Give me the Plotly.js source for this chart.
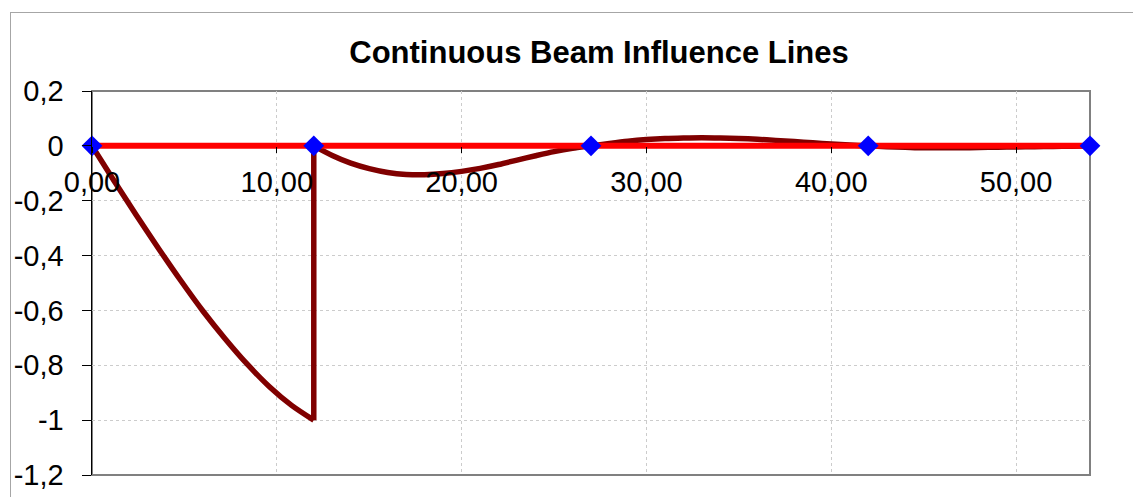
<!DOCTYPE html>
<html>
<head>
<meta charset="utf-8">
<script src="https://cdn.plot.ly/plotly-3.0.1.min.js"></script>
<style>
  html, body { margin: 0; padding: 0; background: #fff; overflow: hidden; }
  #wrap { position: relative; width: 1133px; height: 497px; }
  #chart { position: absolute; left: 0; top: 0; width: 1133px; height: 497px; }
  #frame { position: absolute; left: 10px; top: 12px; width: 1400px; height: 800px;
           border: 1px solid #a6a6a6; pointer-events: none; box-sizing: border-box; }
</style>
</head>
<body>
<div id="wrap">
  <div id="chart"></div>
  <div id="frame"></div>
</div>
<script>
// Influence line (dark red): span 1 up to the jump, then spans 2-4
const span1X = [0, 1.2, 2.4, 3.6, 4.8, 6.0, 7.2, 8.4, 9.6, 10.8, 12];
const span1Y = [0, -0.128, -0.253, -0.374, -0.491, -0.602, -0.703, -0.796, -0.878, -0.946, -1.0];
const jumpX = [12, 12];
const jumpY = [-1.0, 0];
const restX = [12, 13, 14, 15, 16, 17, 18, 19, 20, 21, 22, 23, 24, 25, 26, 27,
               28, 29, 30, 31, 32, 33, 34, 35, 36, 37, 38, 39, 40, 41, 42,
               43, 44, 45, 46, 47, 48, 49, 50, 51, 52, 53, 54];
const restY = [0, -0.035, -0.063, -0.083, -0.097, -0.104, -0.105, -0.101, -0.093, -0.082, -0.068, -0.052, -0.036, -0.021, -0.009, 0,
               0.009, 0.017, 0.023, 0.027, 0.029, 0.030, 0.029, 0.027, 0.024, 0.020, 0.016, 0.011, 0.007, 0.003, 0,
               -0.003, -0.005, -0.007, -0.007, -0.007, -0.006, -0.005, -0.004, -0.003, -0.002, -0.001, 0];

// Beam axis with supports (red line, blue diamonds)
const supportX = [0, 12, 27, 42, 54];
const supportY = [0, 0, 0, 0, 0];

// Axes
const xRange = [0, 54];
const yRange = [-1.2, 0.2];
const xTickVals = [0, 10, 20, 30, 40, 50];
const xTickText = ["0,00", "10,00", "20,00", "30,00", "40,00", "50,00"];
const yTickVals = [0.2, 0, -0.2, -0.4, -0.6, -0.8, -1, -1.2];
const yTickText = ["0,2", "0", "-0,2", "-0,4", "-0,6", "-0,8", "-1", "-1,2"];

const titleText = "Continuous Beam Influence Lines";

const FONT = "'Liberation Sans', Arial, sans-serif";
const IL_COLOR = "#800000";
const IL_WIDTH = 5.5;

const traces = [
  { x: span1X, y: span1Y, type: "scatter", mode: "lines",
    line: { color: IL_COLOR, width: IL_WIDTH, shape: "spline", smoothing: 0.8 },
    hoverinfo: "skip", showlegend: false },
  { x: jumpX, y: jumpY, type: "scatter", mode: "lines",
    line: { color: IL_COLOR, width: IL_WIDTH },
    hoverinfo: "skip", showlegend: false },
  { x: restX, y: restY, type: "scatter", mode: "lines",
    line: { color: IL_COLOR, width: IL_WIDTH, shape: "spline", smoothing: 0.8 },
    hoverinfo: "skip", showlegend: false },
  { x: supportX, y: supportY, type: "scatter", mode: "lines+markers",
    line: { color: "#ff0000", width: 6 },
    marker: { symbol: "diamond", size: 16, color: "#0000ff", line: { width: 0 } },
    cliponaxis: false,
    hoverinfo: "skip", showlegend: false }
];

const zeroPos = (0 - yRange[0]) / (yRange[1] - yRange[0]);

const layout = {
  width: 1133, height: 497,
  margin: { l: 92, r: 43, t: 91, b: 22, pad: 0 },
  paper_bgcolor: "#ffffff",
  plot_bgcolor: "#ffffff",
  showlegend: false,
  font: { family: FONT, size: 29, color: "#000000" },
  title: {
    text: titleText,
    font: { family: FONT, size: 31, color: "#000000", weight: "bold" },
    xref: "container", yref: "container",
    x: 599 / 1133, xanchor: "center",
    y: 1 - 52 / 497, yanchor: "middle"
  },
  xaxis: {
    range: xRange,
    anchor: "free", position: zeroPos,
    tickmode: "array", tickvals: xTickVals, ticktext: xTickText,
    ticks: "outside", ticklen: 6, tickcolor: "#000000", tickwidth: 1,
    ticklabelstandoff: 4,
    showline: false, zeroline: false,
    showgrid: true, gridcolor: "#cccccc", gridwidth: 1, griddash: "dot",
    tickfont: { family: FONT, size: 29, color: "#000000" },
    fixedrange: true
  },
  yaxis: {
    range: yRange,
    tickmode: "array", tickvals: yTickVals, ticktext: yTickText,
    ticks: "outside", ticklen: 9, tickcolor: "#000000", tickwidth: 1,
    ticklabelstandoff: 12,
    showline: true, linecolor: "#000000", linewidth: 1.5,
    zeroline: false,
    showgrid: true, gridcolor: "#cccccc", gridwidth: 1, griddash: "dot",
    tickfont: { family: FONT, size: 29, color: "#000000" },
    fixedrange: true
  },
  shapes: [
    { type: "rect", xref: "paper", yref: "paper", x0: 0, x1: 1, y0: 0, y1: 1,
      line: { color: "#808080", width: 2 }, layer: "below" }
  ]
};

Plotly.newPlot("chart", traces, layout, { displayModeBar: false, staticPlot: true });
</script>
</body>
</html>
